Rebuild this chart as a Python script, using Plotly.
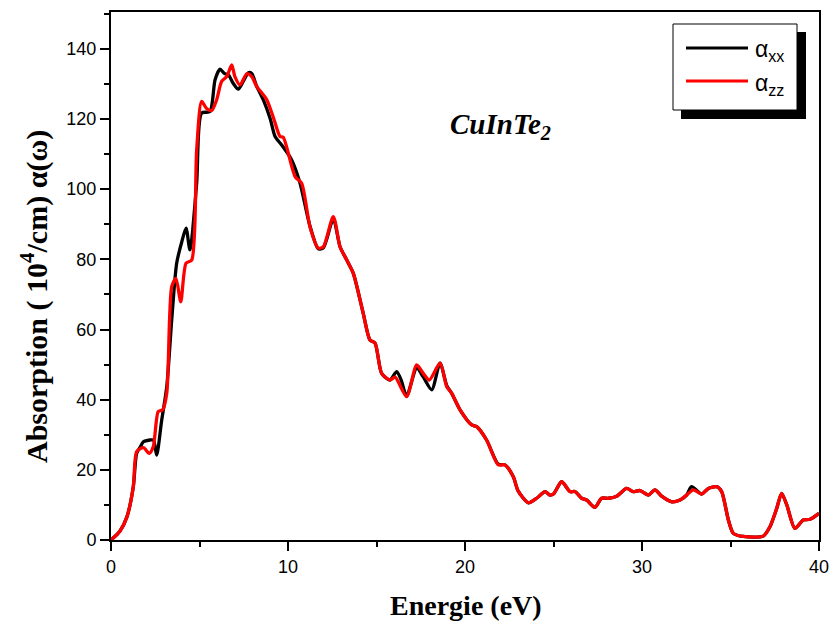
import plotly.graph_objects as go

# ---------------- data ----------------
energy_xx = [0, 0.5, 0.9, 1.26, 1.45, 1.65, 1.83, 2.2, 2.4, 2.58, 2.86, 3.15, 3.43, 3.71, 4.0,
             4.24, 4.46, 4.84, 5.12, 5.59, 5.88, 6.16, 6.4, 6.63, 6.9, 7.19, 7.47, 7.76, 7.95,
             8.23, 8.6, 9.0, 9.27, 9.64, 10.2, 10.68, 11.24, 11.71, 12.0, 12.56, 12.94, 13.32,
             13.69, 14.25, 14.63, 14.92, 15.29, 15.76, 16.14, 16.4, 16.7, 17.27, 17.64, 18.12,
             18.59, 18.97, 19.25, 19.72, 20.38, 20.66, 21.22, 21.88, 22.26, 22.73, 23.0, 23.58,
             24.05, 24.52, 24.8, 25.0, 25.46, 25.93, 26.21, 26.59, 26.87, 27.34, 27.72, 28.1,
             28.57, 29.13, 29.5, 29.89, 30.36, 30.73, 31.11, 31.68, 32.15, 32.52, 32.8, 33.37,
             33.75, 34.22, 34.5, 34.88, 35.16, 35.72, 36.85, 37.23, 37.61, 37.89, 38.18, 38.64,
             39.11, 39.49, 40]
alpha_xx = [0, 2.5, 6.6, 15.2, 24.7, 26.5, 28.0, 28.5, 28.5, 24.2, 34.0, 43.7, 62.7, 78.9, 85.0,
            88.9, 82.7, 101.7, 121.7, 122.1, 131.2, 134.2, 133.0, 132.6, 130.2, 128.5, 130.7,
            133.2, 133.0, 129.3, 125.5, 120.0, 115.0, 112.6, 108.4, 101.7, 89.5, 83.0, 83.3, 91.5,
            83.6, 79.8, 76.0, 64.6, 57.0, 56.1, 47.5, 45.6, 48.0, 45.5, 41.0, 49.0, 46.5, 42.8,
            50.4, 44.0, 41.8, 37.1, 32.8, 32.3, 28.5, 21.6, 21.4, 18.0, 14.0, 10.6,
            11.9, 13.8, 12.8, 13.1, 16.6, 13.8, 13.8, 11.9, 11.4, 9.3, 11.9, 11.9,
            12.5, 14.7, 13.8, 14.1, 12.8, 14.3, 12.5, 10.9, 11.4, 12.8, 15.2, 13.1,
            14.7, 15.2, 13.8, 5.7, 1.9, 1.0, 1.1, 3.8, 9.0, 13.3, 10.0, 3.3,
            5.7, 5.9, 7.6]

energy_zz = [0, 0.5, 0.9, 1.26, 1.45, 1.83, 2.16, 2.39, 2.67, 2.92, 3.15, 3.43, 3.67, 3.94, 4.24,
             4.56, 4.84, 5.12, 5.4, 5.69, 5.97, 6.25, 6.54, 6.82, 7.0, 7.29, 7.67, 7.95, 8.23,
             8.8, 9.2, 9.55, 9.73, 10.4, 10.77, 11.24, 11.71, 12.0, 12.56, 12.94, 13.32, 13.69,
             14.25, 14.63, 14.92, 15.29, 15.76, 16.05, 16.7, 17.27, 17.64, 17.98, 18.59, 18.97,
             19.25, 19.72, 20.38, 20.66, 21.22, 21.88, 22.26, 22.73, 23.0, 23.58,
             24.05, 24.52, 24.8, 25.0, 25.46, 25.93, 26.21, 26.59, 26.87, 27.34, 27.72, 28.1,
             28.57, 29.13, 29.5, 29.89, 30.36, 30.73, 31.11, 31.68, 32.15, 32.52, 32.9, 33.37,
             33.75, 34.22, 34.5, 34.88, 35.16, 35.72, 36.85, 37.23, 37.61, 37.89, 38.18, 38.64,
             39.11, 39.49, 40]
alpha_zz = [0, 2.5, 6.6, 15.2, 25.2, 26.3, 24.7, 26.6, 36.6, 37.1, 41.8, 72.2, 74.6, 67.9, 78.9,
            79.8, 111.2, 125.0, 123.0, 122.4, 125.5, 130.7, 132.1, 135.4, 132.1, 129.7, 132.9,
            132.1, 129.3, 125.5, 120.0, 115.0, 114.8, 103.6, 101.7, 89.3, 83.2, 83.6, 92.2, 83.6,
            79.8, 76.0, 64.6, 57.0, 56.1, 47.5, 45.6, 46.4, 40.9, 49.9, 47.5, 45.6, 50.4, 43.7,
            41.8, 37.1, 32.8, 32.3, 28.5, 21.4, 21.4, 18.0, 14.0, 10.6,
            11.9, 13.8, 12.8, 13.1, 16.6, 13.8, 13.8, 11.9, 11.4, 9.3, 11.9, 11.9,
            12.5, 14.7, 13.8, 14.1, 12.8, 14.3, 12.5, 10.9, 11.4, 12.8, 14.3, 13.1,
            14.7, 15.2, 13.8, 5.7, 1.9, 1.0, 1.1, 3.8, 9.0, 13.3, 10.0, 3.3,
            5.7, 5.9, 7.6]

series_names = ["α<sub>xx</sub>", "α<sub>zz</sub>"]
series_colors = ["#000000", "#ff0000"]
compound_label = "<b><i>CuInTe<sub>2</sub></i></b>"
x_title = "<b>Energie (eV)</b>"
y_title = "<b>Absorption ( 10<sup>4</sup>/cm) α(ω)</b>"
x_ticks = [0, 10, 20, 30, 40]
y_ticks = [0, 20, 40, 60, 80, 100, 120, 140]

# ---------------- figure ----------------
W, H = 834, 624
L, R, T, B = 111, 15, 12, 84
PW, PH = W - L - R, H - T - B


def px(x):
    return (x - L) / PW


def py(y):
    return (H - B - y) / PH


fig = go.Figure()
for ex, ay, name, col in [(energy_xx, alpha_xx, series_names[0], series_colors[0]),
                          (energy_zz, alpha_zz, series_names[1], series_colors[1])]:
    fig.add_trace(go.Scatter(x=ex, y=ay, mode="lines", name=name, showlegend=False,
                             line=dict(color=col, width=3.3, shape="spline", smoothing=0.7)))

axis_common = dict(showline=True, linewidth=2, linecolor="black", mirror=True,
                   ticks="outside", ticklen=9, tickwidth=2, tickcolor="black",
                   showgrid=False, zeroline=False, automargin=False,
                   tickfont=dict(family="Liberation Sans, Arial", size=18, color="black"))

fig.update_xaxes(range=[0, 40], tickvals=x_ticks,
                 minor=dict(dtick=5, ticks="outside", ticklen=5, tickwidth=2, tickcolor="black"),
                 **axis_common)
fig.update_yaxes(range=[0, 150.5], tickvals=y_ticks,
                 minor=dict(dtick=10, ticks="outside", ticklen=5, tickwidth=2, tickcolor="black"),
                 **axis_common)

# manual legend with drop shadow (paper coordinates derived from pixel positions)
shapes = [
    dict(type="rect", xref="paper", yref="paper", x0=px(681), x1=px(806), y0=py(119), y1=py(32),
         fillcolor="black", line=dict(width=0), layer="above"),
    dict(type="rect", xref="paper", yref="paper", x0=px(673), x1=px(797), y0=py(110), y1=py(24),
         fillcolor="white", line=dict(color="black", width=1), layer="above"),
]
legend_rows = [48, 81]
annotations = []
for (name, col, yrow) in zip(series_names, series_colors, legend_rows):
    shapes.append(dict(type="line", xref="paper", yref="paper", x0=px(686), x1=px(748),
                       y0=py(yrow), y1=py(yrow), line=dict(color=col, width=3), layer="above"))
    annotations.append(dict(xref="paper", yref="paper", x=px(753), y=py(yrow + 3), text=name,
                            showarrow=False, xanchor="left", yanchor="middle",
                            font=dict(family="Liberation Sans, Arial", size=23, color="black")))

annotations.append(dict(xref="x", yref="y", x=22.0, y=118, text=compound_label, showarrow=False,
                        font=dict(family="Liberation Serif, Times New Roman", size=29, color="black")))
annotations.append(dict(xref="paper", yref="paper", x=px(34), y=py(297), text=y_title,
                        textangle=-90, showarrow=False, xanchor="center", yanchor="middle",
                        font=dict(family="Liberation Serif, Times New Roman", size=30, color="black")))
annotations.append(dict(xref="paper", yref="paper", x=px(466), y=py(605), text=x_title,
                        showarrow=False, xanchor="center", yanchor="middle",
                        font=dict(family="Liberation Serif, Times New Roman", size=28, color="black")))

fig.update_layout(width=W, height=H, margin=dict(l=L, r=R, t=T, b=B),
                  paper_bgcolor="white", plot_bgcolor="white",
                  shapes=shapes, annotations=annotations, showlegend=False)

fig.write_html("out.html")
